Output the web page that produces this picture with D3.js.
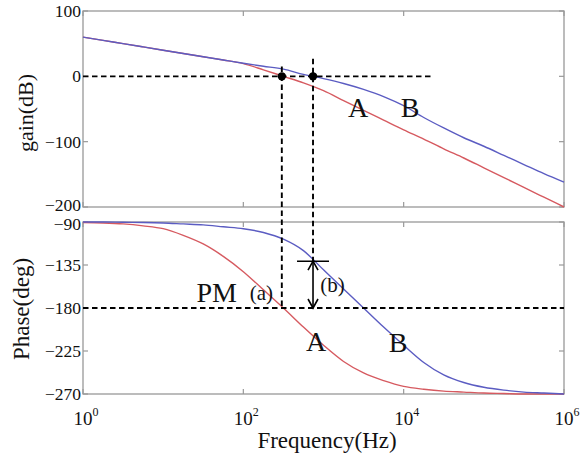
<html>
<head>
    <title>Bode plot</title>
    <script src="https://d3js.org/d3.v7.min.js"></script>
</head>
<style>
    body { margin: 0; background: #fff; }
    text { font-family: "Liberation Serif", serif; fill: #111; }
    .frame { fill: none; stroke: #999; stroke-width: 1.3px; }
    .tick { stroke: #999; stroke-width: 1.2px; }
    .dash { stroke: #000; stroke-width: 1.9px; stroke-dasharray: 5.5,3.5; fill: none; }
</style>
<body>
<script>
    // frequency grid (Hz), quarter decades
    let freq = [1, 1.78, 3.16, 5.62, 10, 17.8, 31.6, 56.2, 100, 178, 316, 562, 1000,
                1780, 3160, 5620, 10000, 17800, 31600, 56200, 100000, 178000, 316000, 562000, 1000000];

    // gain (dB)
    let gainA = [60, 55, 50, 45, 40, 35, 30, 25, 19.5, 10, 0, -10, -22,
                 -37, -52, -67, -82, -96, -111, -125, -140, -155, -170, -185, -200];
    let gainB = [60, 55, 50, 45, 40, 35, 30, 25, 20, 15.5, 11, 3, -3.5,
                 -11, -20, -31, -45, -63, -79, -94, -107, -121, -135, -149, -162];

    // phase (deg)
    let phaseA = [-90.5, -91, -92, -94, -97, -104, -113, -126, -142, -161, -180, -200, -219,
                  -236, -248, -256, -262, -265, -267, -268, -269, -269.5, -270, -270, -270];
    let phaseB = [-90, -90, -90.3, -90.5, -91, -92, -93, -95, -97, -101, -108, -120, -140,
                  -160, -180, -200, -219, -237, -250, -258, -263, -266, -268, -269, -270];

    let xTicks = [1, 100, 10000, 1000000];
    let xExp = ["0", "2", "4", "6"];
    let gainTicks = [100, 0, -100, -200];
    let phaseTicks = [-90, -135, -180, -225, -270];

    // crossover frequencies and annotation values
    let fcA = 302, fcB = 740;
    let zeroLineEnd = 23000;
    let marginPhaseB = -131;

    let svg = d3.select("body").append("svg")
        .attr("width", 584)
        .attr("height", 458);

    let x = d3.scaleLog().domain([1, 1e6]).range([83, 564]);
    let yG = d3.scaleLinear().domain([-200, 100]).range([207, 11]);
    let yP = d3.scaleLinear().domain([-270, -90]).range([394, 222]);

    let fmt = function (v) { return String(v).replace("-", "\u2212"); };

    function panel(y, ticks, nudge) {
        let g = svg.append("g");
        let y0 = y.range()[0], y1 = y.range()[1];
        g.append("rect").attr("class", "frame")
            .attr("x", x.range()[0]).attr("y", y1)
            .attr("width", x.range()[1] - x.range()[0]).attr("height", y0 - y1);
        // inward ticks, left and right
        ticks.forEach(function (t, i) {
            g.append("line").attr("class", "tick")
                .attr("x1", x.range()[0]).attr("x2", x.range()[0] + 5)
                .attr("y1", y(t)).attr("y2", y(t));
            g.append("line").attr("class", "tick")
                .attr("x1", x.range()[1]).attr("x2", x.range()[1] - 5)
                .attr("y1", y(t)).attr("y2", y(t));
            g.append("text")
                .attr("x", x.range()[0] - 2)
                .attr("y", y(t) + (nudge[i] || 0))
                .attr("dy", "0.35em")
                .attr("text-anchor", "end")
                .attr("font-size", 17.5)
                .text(fmt(t));
        });
        // inward ticks, top and bottom
        xTicks.forEach(function (t) {
            g.append("line").attr("class", "tick")
                .attr("x1", x(t)).attr("x2", x(t))
                .attr("y1", y1).attr("y2", y1 + 5);
            g.append("line").attr("class", "tick")
                .attr("x1", x(t)).attr("x2", x(t))
                .attr("y1", y0).attr("y2", y0 - 5);
        });
        return g;
    }

    panel(yG, gainTicks, [0, 0, 0, -2]);
    panel(yP, phaseTicks, [2, 0, 0, 0, 0]);

    // x tick labels 10^n
    xTicks.forEach(function (t, i) {
        let txt = svg.append("text")
            .attr("x", x(t) + 3)
            .attr("y", 425)
            .attr("text-anchor", "middle")
            .attr("font-size", 19);
        txt.append("tspan").text("10");
        txt.append("tspan").attr("dy", -9).attr("font-size", 12).text(xExp[i]);
    });

    // axis labels
    svg.append("text")
        .attr("transform", "translate(33,113) rotate(-90)")
        .attr("text-anchor", "middle")
        .attr("font-size", 22)
        .text("gain(dB)");
    svg.append("text")
        .attr("transform", "translate(29,309) rotate(-90)")
        .attr("text-anchor", "middle")
        .attr("font-size", 23)
        .text("Phase(deg)");
    svg.append("text")
        .attr("x", 327).attr("y", 448)
        .attr("text-anchor", "middle")
        .attr("font-size", 23)
        .text("Frequency(Hz)");

    // curves
    function curve(vals, y, color) {
        let pts = freq.map(function (f, i) { return { f: f, v: vals[i] }; });
        let line = d3.line()
            .x(function (d) { return x(d.f); })
            .y(function (d) { return y(d.v); })
            .curve(d3.curveMonotoneX);
        svg.append("path")
            .datum(pts)
            .attr("fill", "none")
            .attr("stroke", color)
            .attr("stroke-width", 1.4)
            .attr("d", line);
    }
    curve(gainA, yG, "#d65a60");
    curve(gainB, yG, "#5b5cc2");
    curve(phaseA, yP, "#d65a60");
    curve(phaseB, yP, "#5b5cc2");

    // dashed reference lines
    svg.append("line").attr("class", "dash")
        .attr("x1", x(1)).attr("x2", x(zeroLineEnd))
        .attr("y1", yG(0)).attr("y2", yG(0));
    svg.append("line").attr("class", "dash")
        .attr("x1", x(1)).attr("x2", x(1e6))
        .attr("y1", yP(-180)).attr("y2", yP(-180));
    svg.append("line").attr("class", "dash")
        .attr("x1", x(fcA)).attr("x2", x(fcA))
        .attr("y1", yG(15)).attr("y2", yP(-180));
    svg.append("line").attr("class", "dash")
        .attr("x1", x(fcB)).attr("x2", x(fcB))
        .attr("y1", yG(27)).attr("y2", yP(marginPhaseB));

    // crossover dots
    [fcA, fcB].forEach(function (f) {
        svg.append("circle")
            .attr("cx", x(f)).attr("cy", yG(0))
            .attr("r", 4.2).attr("fill", "#000");
    });

    // phase margin bar + double arrow
    let ax = x(fcB), ay1 = yP(marginPhaseB), ay2 = yP(-180);
    svg.append("line")
        .attr("x1", ax - 16).attr("x2", ax + 16)
        .attr("y1", ay1).attr("y2", ay1)
        .attr("stroke", "#000").attr("stroke-width", 1.6);
    svg.append("line")
        .attr("x1", ax).attr("x2", ax)
        .attr("y1", ay1).attr("y2", ay2)
        .attr("stroke", "#000").attr("stroke-width", 1.6);
    svg.append("path")
        .attr("d", "M" + (ax - 5) + "," + (ay1 + 9) + "L" + ax + "," + ay1 + "L" + (ax + 5) + "," + (ay1 + 9))
        .attr("fill", "none").attr("stroke", "#000").attr("stroke-width", 1.6);
    svg.append("path")
        .attr("d", "M" + (ax - 5) + "," + (ay2 - 9) + "L" + ax + "," + ay2 + "L" + (ax + 5) + "," + (ay2 - 9))
        .attr("fill", "none").attr("stroke", "#000").attr("stroke-width", 1.6);

    // labels
    let bigLabels = [
        { t: "A", f: 2700, y: yG, v: -63 },
        { t: "B", f: 12000, y: yG, v: -63 },
        { t: "A", f: 810, y: yP, v: -225 },
        { t: "B", f: 8500, y: yP, v: -226 }
    ];
    bigLabels.forEach(function (d) {
        svg.append("text")
            .attr("x", x(d.f)).attr("y", d.y(d.v))
            .attr("text-anchor", "middle")
            .attr("font-size", 28)
            .text(d.t);
    });
    svg.append("text")
        .attr("x", x(26)).attr("y", yP(-173.7))
        .attr("font-size", 28)
        .text("PM");
    svg.append("text")
        .attr("x", x(120)).attr("y", yP(-171.6))
        .attr("font-size", 21)
        .text("(a)");
    svg.append("text")
        .attr("x", x(910)).attr("y", yP(-163))
        .attr("font-size", 21)
        .text("(b)");
</script>
</body>
</html>
